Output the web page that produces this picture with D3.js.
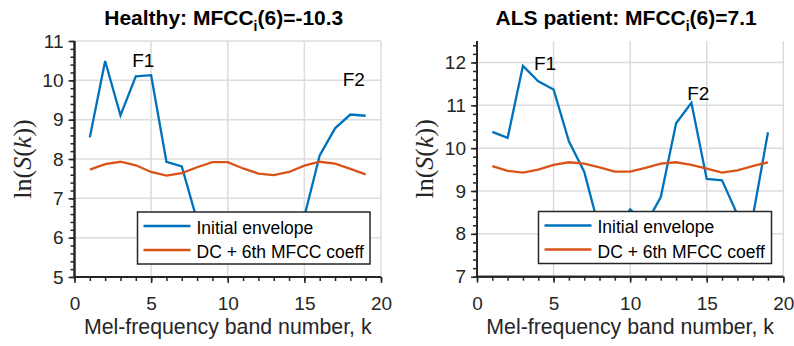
<!DOCTYPE html>
<html lang="en">
<head>
  <meta charset="UTF-8">
  <title>MFCC envelopes</title>
  <script src="https://d3js.org/d3.v7.min.js"></script>
  <style>
    body { margin: 0; background: #fff; }
    svg { font-family: "Liberation Sans", Arial, sans-serif; }
  </style>
</head>
<body>
  <svg id="chart"></svg>

  <script>
    // band numbers k
    const bands = d3.range(1, 20);

    // Healthy speaker
    const healthyEnvelope = [8.55, 10.49, 9.11, 10.10, 10.13, 7.93, 7.81, 6.44, 6.0, 5.7, 5.6, 5.7, 5.9, 6.2, 6.54, 8.09, 8.78, 9.13, 9.10];
    const healthyDC6 = [7.73, 7.87, 7.93, 7.84, 7.67, 7.58, 7.64, 7.79, 7.92, 7.92, 7.76, 7.63, 7.59, 7.67, 7.83, 7.93, 7.88, 7.75, 7.61];

    // ALS patient
    const alsEnvelope = [10.38, 10.24, 11.92, 11.56, 11.37, 10.16, 9.45, 8.09, 8.0, 8.57, 8.21, 8.86, 10.58, 11.06, 9.28, 9.25, 8.45, 8.38, 10.37];
    const alsDC6 = [9.58, 9.47, 9.43, 9.50, 9.61, 9.67, 9.64, 9.55, 9.45, 9.45, 9.54, 9.64, 9.67, 9.61, 9.52, 9.43, 9.48, 9.58, 9.67];

    const xTicks = [0, 5, 10, 15, 20];
    const healthyYTicks = [5, 6, 7, 8, 9, 10, 11];
    const alsYTicks = [7, 8, 9, 10, 11, 12];
    const legendLabels = ["Initial envelope", "DC + 6th MFCC coeff"];

    const blue = "#0072BD", orange = "#D95319", axisColor = "#262626";

    const svg = d3.select("#chart").attr("width", 794).attr("height", 346);

    function drawPanel(p) {
      const x = d3.scaleLinear().domain([0, 20]).range([p.left, p.right]);
      const y = d3.scaleLinear().domain(p.yDomain).range([p.bottom, p.top]);
      const g = svg.append("g");

      // grid
      g.append("g").selectAll("line").data(xTicks.filter(d => d > 0)).enter().append("line")
        .attr("x1", d => x(d)).attr("x2", d => x(d)).attr("y1", p.top).attr("y2", p.bottom)
        .attr("stroke", "#dcdcdc").attr("stroke-width", 1.5);
      g.append("g").selectAll("line").data(p.yTicks.filter(d => d > p.yDomain[0])).enter().append("line")
        .attr("x1", p.left).attr("x2", p.right).attr("y1", d => y(d)).attr("y2", d => y(d))
        .attr("stroke", "#dcdcdc").attr("stroke-width", 1.5);

      // axes: minor ticks then major ticks with labels
      g.append("g").attr("class", "xax").attr("transform", `translate(0,${p.bottom})`)
        .call(d3.axisBottom(x).tickValues(d3.range(0, 21)).tickSize(4).tickFormat(""));
      g.append("g").attr("class", "xax").attr("transform", `translate(0,${p.bottom})`)
        .call(d3.axisBottom(x).tickValues(xTicks).tickSize(6).tickPadding(14).tickFormat(d3.format("d")))
        .call(a => a.selectAll("text").attr("font-size", 19).attr("fill", axisColor).attr("font-family", "Liberation Sans"));

      const minor = d3.range(p.yDomain[0], p.yDomain[1] + 0.001, 0.2);
      g.append("g").attr("class", "yax").attr("transform", `translate(${p.left},0)`)
        .call(d3.axisLeft(y).tickValues(minor).tickSize(4).tickFormat(""));
      g.append("g").attr("class", "yax").attr("transform", `translate(${p.left},0)`)
        .call(d3.axisLeft(y).tickValues(p.yTicks).tickSize(6).tickPadding(5).tickFormat(d3.format("d")))
        .call(a => a.selectAll("text").attr("font-size", 19).attr("fill", axisColor).attr("font-family", "Liberation Sans"));

      g.selectAll(".tick line").attr("stroke", axisColor).attr("stroke-width", 1.5);
      g.selectAll(".xax .domain").attr("d", `M${p.left},0H${p.right}`);
      g.selectAll(".yax .domain").attr("d", `M0,${p.bottom}V${p.top}`);
      g.selectAll(".domain").attr("stroke", axisColor).attr("stroke-width", 2);

      // series
      const line = d3.line().x((d, i) => x(bands[i])).y(d => y(d));
      g.append("path").datum(p.envelope).attr("d", line)
        .attr("fill", "none").attr("stroke", blue).attr("stroke-width", 2.3);
      g.append("path").datum(p.dc6).attr("d", line)
        .attr("fill", "none").attr("stroke", orange).attr("stroke-width", 2.3);

      // formant labels
      p.notes.forEach(n => {
        g.append("text").attr("x", x(n.k)).attr("y", y(n.v)).attr("font-size", 19)
          .attr("fill", "#000").text(n.t);
      });

      // title
      const t = g.append("text").attr("x", (p.left + p.right) / 2 - 4).attr("y", 25)
        .attr("text-anchor", "middle").attr("font-size", 21).attr("font-weight", "bold").attr("fill", "#000");
      t.append("tspan").text(p.title[0]);
      t.append("tspan").attr("font-size", 14).attr("dy", 6).text("i");
      t.append("tspan").attr("dy", -6).text(p.title[1]);

      // x label
      g.append("text").attr("x", (p.left + p.right) / 2).attr("y", 334)
        .attr("text-anchor", "middle").attr("font-size", 21.3).attr("fill", axisColor)
        .text("Mel-frequency band number, k");

      // y label
      const yl = g.append("text")
        .attr("transform", `translate(${p.yLabelX},${(p.top + p.bottom) / 2}) rotate(-90)`)
        .attr("text-anchor", "middle").attr("font-size", 26).attr("fill", axisColor)
        .attr("font-family", "'Liberation Serif', 'DejaVu Serif', serif");
      yl.append("tspan").text("ln(");
      yl.append("tspan").attr("font-style", "italic").text("S");
      yl.append("tspan").text("(");
      yl.append("tspan").attr("font-style", "italic").text("k");
      yl.append("tspan").text("))");

      // legend
      const lg = g.append("g").attr("transform", `translate(${p.legend[0]},${p.legend[1]})`);
      lg.append("rect").attr("width", p.legend[2]).attr("height", 52)
        .attr("fill", "#fff").attr("stroke", "#262626").attr("stroke-width", 1.5);
      [blue, orange].forEach((c, i) => {
        lg.append("line").attr("x1", 6).attr("x2", 53).attr("y1", 14 + i * 24).attr("y2", 14 + i * 24)
          .attr("stroke", c).attr("stroke-width", 2.3);
        lg.append("text").attr("x", 59).attr("y", 21.5 + i * 24.5).attr("font-size", 17.5)
          .attr("fill", "#000").text(legendLabels[i]);
      });
    }

    drawPanel({
      left: 74.5, right: 381, top: 41, bottom: 277, yDomain: [5, 11], yTicks: healthyYTicks,
      envelope: healthyEnvelope, dc6: healthyDC6,
      notes: [{ k: 3.77, v: 10.33, t: "F1" }, { k: 17.5, v: 9.85, t: "F2" }],
      title: ["Healthy: MFCC", "(6)=-10.3"], yLabelX: 31,
      legend: [137.5, 212, 232.5]
    });

    drawPanel({
      left: 477, right: 783.3, top: 41, bottom: 276.7, yDomain: [7, 12.5], yTicks: alsYTicks,
      envelope: alsEnvelope, dc6: alsDC6,
      notes: [{ k: 3.72, v: 11.82, t: "F1" }, { k: 13.73, v: 11.12, t: "F2" }],
      title: ["ALS patient: MFCC", "(6)=7.1"], yLabelX: 433,
      legend: [538.5, 211.5, 233]
    });
  </script>
</body>
</html>
